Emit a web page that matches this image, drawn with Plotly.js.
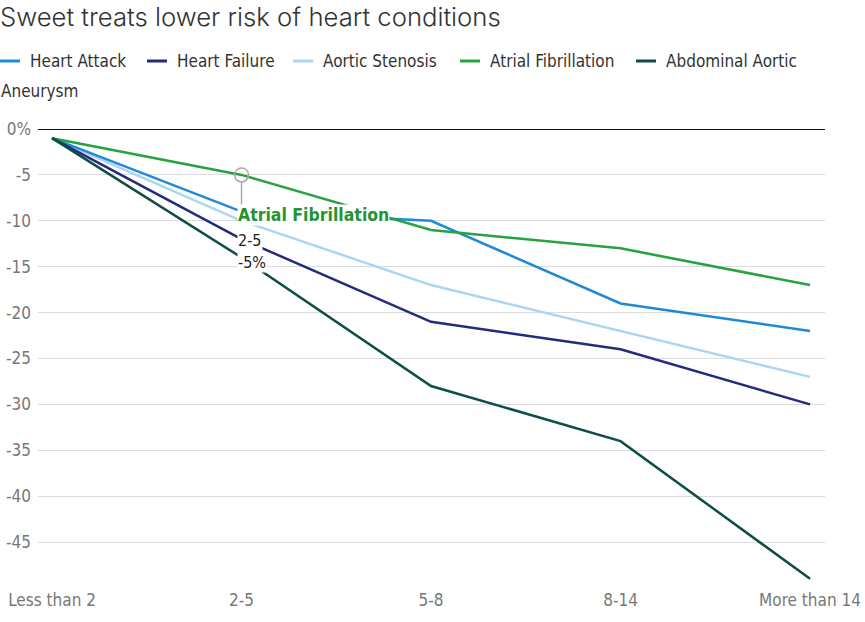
<!DOCTYPE html>
<html>
<head>
<meta charset="utf-8">
<script src="https://cdn.plot.ly/plotly-3.0.1.min.js"></script>
<style>html,body{margin:0;padding:0;background:#fff;}#chart{width:865px;height:622px;}</style>
</head>
<body>
<div id="chart"></div>
<script>
const categories = ["Less than 2", "2-5", "5-8", "8-14", "More than 14"];
const heartAttack = [-1, -9, -10, -19, -22];
const heartFailure = [-1, -12, -21, -24, -30];
const aorticStenosis = [-1, -10, -17, -22, -27];
const atrialFibrillation = [-1, -5, -11, -13, -17];
const abdominalAortic = [-1, -14, -28, -34, -49];
const seriesNames = ["Heart Attack", "Heart Failure", "Aortic Stenosis", "Atrial Fibrillation", "Abdominal Aortic Aneurysm"];
const seriesValues = [heartAttack, heartFailure, aorticStenosis, atrialFibrillation, abdominalAortic];
const colors = ["#1f8ad3", "#242a7d", "#acd5f1", "#26a23f", "#0e4d48"];
const yTickVals = [0, -5, -10, -15, -20, -25, -30, -35, -40, -45];
const yTickText = ["0%", "-5", "-10", "-15", "-20", "-25", "-30", "-35", "-40", "-45"];

const COND = "'DejaVu Sans Condensed', 'Open Sans', sans-serif";
const W = 865, H = 622;
const M = {l: 38, r: 40, t: 129, b: 34};
const PW = W - M.l - M.r, PH = H - M.t - M.b;
const px = x => (x - M.l) / PW;
const py = y => (H - M.b - y) / PH;

const order = [2, 0, 3, 1, 4];
const traces = order.map(i => ({
  x: categories, y: seriesValues[i], name: seriesNames[i], type: 'scatter', mode: 'lines',
  line: {color: colors[i], width: 2.5}, hoverinfo: 'skip', showlegend: false
}));

const legendX = [0, 147, 293, 460, 636];
const shapes = [];
const annotations = [];
seriesNames.forEach((n, i) => {
  shapes.push({type: 'line', xref: 'paper', yref: 'paper', x0: px(legendX[i]), x1: px(legendX[i] + 20),
    y0: py(61), y1: py(61), line: {color: colors[i], width: 3}});
  const label = i === 4 ? n.split(' ').slice(0, 2).join(' ') : n;
  annotations.push({xref: 'paper', yref: 'paper', x: px(legendX[i] + 28), y: py(61), xanchor: 'left', yanchor: 'middle',
    text: label, showarrow: false, font: {family: COND, size: 17, color: '#333'}});
});
annotations.push({xref: 'paper', yref: 'paper', x: px(-1), y: py(91), xanchor: 'left', yanchor: 'middle',
  text: seriesNames[4].split(' ').slice(2).join(' '), showarrow: false, font: {family: COND, size: 17, color: '#333'}});

const hi = 1, hs = 3;
shapes.push({type: 'line', xref: 'x', yref: 'y', x0: hi, x1: hi, y0: seriesValues[hs][hi] - 0.7, y1: seriesValues[hs][hi] - 3.3,
  line: {color: '#aaa', width: 1.5}});
shapes.push({type: 'circle', xref: 'x', yref: 'y', xsizemode: 'pixel', ysizemode: 'pixel', xanchor: hi, yanchor: seriesValues[hs][hi],
  x0: -7, x1: 7, y0: -7, y1: 7, line: {color: '#aaa', width: 1.5}, fillcolor: 'rgba(0,0,0,0)'});
const hx = px(237);
annotations.push({xref: 'paper', yref: 'paper', x: hx, y: py(215), xanchor: 'left', yanchor: 'middle', showarrow: false,
  text: '<b>' + seriesNames[hs] + '</b>', bgcolor: '#fff', borderpad: 0, font: {family: COND, size: 17.5, color: '#1f9433'}});
annotations.push({xref: 'paper', yref: 'paper', x: hx, y: py(240), xanchor: 'left', yanchor: 'middle', showarrow: false,
  text: categories[hi], bgcolor: '#fff', borderpad: 0, font: {family: COND, size: 16, color: '#222'}});
annotations.push({xref: 'paper', yref: 'paper', x: hx, y: py(262), xanchor: 'left', yanchor: 'middle', showarrow: false,
  text: seriesValues[hs][hi] + '%', bgcolor: '#fff', borderpad: 0, font: {family: COND, size: 16, color: '#222'}});

const layout = {
  width: W, height: H, margin: M, paper_bgcolor: '#fff', plot_bgcolor: '#fff',
  title: {text: 'Sweet treats lower risk of heart conditions', x: 0, xref: 'container', xanchor: 'left', y: 1 - 17 / H, yanchor: 'middle',
    pad: {l: 0}, font: {family: "Inter, Roboto, sans-serif", size: 25.7, color: '#333', weight: 300}},
  xaxis: {type: 'category', range: [-0.074, 4.079], showgrid: false, zeroline: false, showline: false, ticks: '',
    tickfont: {family: COND, size: 17, color: '#777'}, fixedrange: true},
  yaxis: {range: [-50, 0], tickvals: yTickVals, ticktext: yTickText, showgrid: true, gridcolor: '#dcdcdc', gridwidth: 1,
    zeroline: true, zerolinecolor: '#111', zerolinewidth: 1, showline: false, ticks: '', ticklabelstandoff: 6,
    tickfont: {family: COND, size: 17, color: '#777'}, fixedrange: true},
  shapes: shapes, annotations: annotations, showlegend: false
};
Plotly.newPlot('chart', traces, layout, {displayModeBar: false, staticPlot: true});
</script>
</body>
</html>
